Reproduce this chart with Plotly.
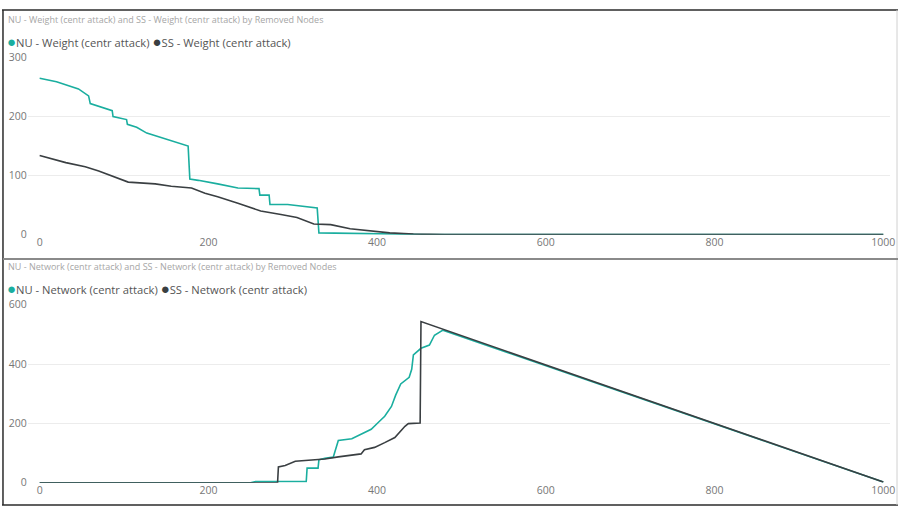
import plotly.graph_objects as go

# removed nodes vs. weight (top panel)
w_nu_x = [0, 20, 46, 58, 60, 86, 87, 103, 104, 115, 127, 148, 176, 178, 188, 211, 223, 235, 260, 261, 272, 273, 294, 329, 331, 400, 460, 1000]
w_nu_y = [265, 259, 247, 235, 222, 210, 200, 195, 187, 182, 172, 163, 150, 94, 92, 86, 82, 79, 78, 67, 67, 51, 51, 45, 3, 2, 0, 0]
w_ss_x = [0, 31, 54, 70, 105, 121, 137, 156, 180, 196, 211, 235, 262, 286, 305, 325, 345, 368, 392, 415, 443, 480, 1000]
w_ss_y = [134, 122, 115, 108, 89, 87, 86, 82, 79, 70, 64, 53, 40, 34, 29, 18, 17, 10, 6, 3, 1, 0, 0]

# removed nodes vs. network (bottom panel)
n_nu_x = [0, 250, 256, 316, 317, 330, 331, 338, 348, 354, 370, 381, 393, 401, 409, 417, 422, 428, 438, 441, 443, 452, 462, 468, 478, 1000]
n_nu_y = [0, 0, 4, 4, 49, 49, 77, 82, 86, 142, 148, 164, 180, 202, 224, 257, 295, 333, 355, 382, 431, 453, 464, 497, 514, 2]
n_ss_x = [0, 282, 283, 291, 303, 326, 338, 354, 370, 381, 385, 397, 409, 421, 433, 437, 451, 452, 1000]
n_ss_y = [0, 0, 53, 58, 72, 77, 80, 87, 92, 97, 111, 119, 135, 152, 190, 199, 201, 543, 2]

teal = "#1AAE9F"
dark = "#3A3F42"
W, H = 904, 514
FONT = "Segoe UI, Open Sans, sans-serif"

def px(x):
    return x / W

def py(y):
    return 1 - y / H

fig = go.Figure()
fig.add_trace(go.Scatter(x=w_nu_x, y=w_nu_y, mode="lines", line=dict(color=teal, width=1.6), xaxis="x", yaxis="y"))
fig.add_trace(go.Scatter(x=w_ss_x, y=w_ss_y, mode="lines", line=dict(color=dark, width=1.6), xaxis="x", yaxis="y"))
fig.add_trace(go.Scatter(x=n_nu_x, y=n_nu_y, mode="lines", line=dict(color=teal, width=1.6), xaxis="x2", yaxis="y2"))
fig.add_trace(go.Scatter(x=n_ss_x, y=n_ss_y, mode="lines", line=dict(color=dark, width=1.6), xaxis="x2", yaxis="y2"))

xdom = [px(28), px(895)]
xrng = [-14, 1008]
tickfont = dict(family=FONT, size=10.5, color="#777777")

def xax(anchor):
    return dict(domain=xdom, range=xrng, anchor=anchor, showgrid=False, zeroline=False,
                showline=False, tickvals=[0, 200, 400, 600, 800, 1000], tickfont=tickfont, ticks="")

def yax(dom, rng, vals, anchor):
    return dict(domain=dom, range=rng, anchor=anchor, showgrid=True, gridcolor="#ECECEC",
                gridwidth=1, zeroline=False, tickvals=vals, tickfont=tickfont, ticks="")

fig.update_layout(
    width=W, height=H,
    margin=dict(l=0, r=0, t=0, b=0),
    paper_bgcolor="white", plot_bgcolor="white",
    showlegend=False,
    font=dict(family=FONT),
    xaxis=xax("y"),
    yaxis=yax([py(234), py(52)], [0, 300], [0, 100, 200, 300], "x"),
    xaxis2=xax("y2"),
    yaxis2=yax([py(489), py(306)], [0, 600], [0, 200, 400, 600], "x2"),
)

def title_and_legend(top, title, nu_name, ss_name):
    fig.add_annotation(x=px(6), y=py(top), xref="paper", yref="paper", xanchor="left", yanchor="middle",
                       text=title, showarrow=False,
                       font=dict(family=FONT, size=9, color="#A6A6A6"))
    leg = (f"<span style='color:{teal};font-size:15px'>●</span>{nu_name} "
           f"<span style='color:{dark};font-size:15px'>●</span>{ss_name}")
    fig.add_annotation(x=px(5), y=py(top + 22), xref="paper", yref="paper", xanchor="left", yanchor="middle",
                       text=leg, showarrow=False,
                       font=dict(family=FONT, size=11.2, color="#555555"))

title_and_legend(12.5, "NU - Weight (centr attack) and SS - Weight (centr attack) by Removed Nodes",
                 "NU - Weight (centr attack)", "SS - Weight (centr attack)")
title_and_legend(267, "NU - Network (centr attack) and SS - Network (centr attack) by Removed Nodes",
                 "NU - Network (centr attack)", "SS - Network (centr attack)")

def pline(x0, y0, x1, y1, color, width):
    fig.add_shape(type="line", xref="paper", yref="paper",
                  x0=px(x0), y0=py(y0), x1=px(x1), y1=py(y1),
                  line=dict(color=color, width=width))

# frame around the two visuals
pline(2, 3, 903, 3, "#2B2B2B", 1.5)
pline(3, 3, 3, 512, "#2B2B2B", 1.5)
pline(2, 512, 903, 512, "#2B2B2B", 1.5)
pline(902, 3, 902, 512, "#D0D0D0", 1)
pline(3, 259, 903, 259, "#8A8A8A", 2)

# drop the default body margin so the figure sits in the window corner
pin = ("var d=document.getElementById('{plot_id}');"
       "document.body.style.margin='0';"
       "document.documentElement.style.overflow='hidden';"
       "d.style.position='fixed';d.style.left='0px';d.style.top='0px';")

fig.write_html("out.html", config={"displayModeBar": False}, post_script=pin)
